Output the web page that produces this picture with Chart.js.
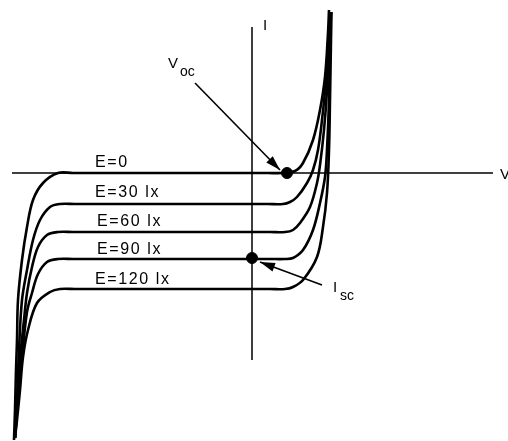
<!DOCTYPE html>
<html lang="en">
<head>
  <meta charset="UTF-8">
  <title>Photodiode I-V curves</title>
  <style>
    body {
      margin: 0;
      background: #fff;
    }
    #grafico {
      display: block;
    }
  </style>
</head>
<body>
  <canvas id="grafico" width="508" height="441"></canvas>

  <script src="https://cdn.jsdelivr.net/npm/chart.js"></script>
  <script>
  // Curvas I-V (unidades arbitrarias: V para a direita, I para cima)
  const e0V   = [-23.8, -23.7, -23.6, -23.5, -23.4, -23.0, -22.5, -21.9, -20.9, -19.4, -17.9, 1.6, 3.1, 4.3, 5.1, 6.1, 6.8, 7.3, 7.6, 7.7];
  const e0I   = [-26.7, -23.7, -19.7, -16.7, -12.7, -8.7, -5.4, -2.7, -1.0, 0, 0, 0, 0, 0.2, 1.0, 3.3, 6.3, 9.6, 14.0, 16.3];

  const e30V  = [-23.7, -23.5, -23.3, -23.0, -22.5, -21.9, -21.2, -20.2, -19.2, -17.7, 1.6, 3.1, 3.8, 4.5, 5.5, 6.1, 6.6, 7.0, 7.4, 7.7, 7.8];
  const e30I  = [-26.5, -22.7, -17.7, -12.7, -9.7, -6.7, -4.7, -3.4, -3.1, -3.1, -3.1, -3.1, -2.9, -2.4, -1.0, 0.3, 2.3, 5.3, 9.3, 14.3, 16.1];

  const e60V  = [-23.7, -23.5, -23.2, -22.8, -22.5, -22.0, -21.4, -20.5, -19.4, -17.9, 1.8, 3.3, 4.1, 4.8, 5.8, 6.5, 6.8, 7.2, 7.5, 7.7, 7.8];
  const e60I  = [-26.5, -23.7, -18.7, -14.7, -12.0, -9.4, -7.4, -6.2, -5.9, -5.9, -5.9, -5.9, -5.7, -5.0, -3.4, -1.0, 0.8, 4.3, 8.3, 13.3, 16.1];

  const e90V  = [-23.7, -23.4, -23.0, -22.5, -22.0, -21.4, -20.5, -19.4, -17.9, 1.8, 3.3, 4.1, 5.1, 6.1, 6.8, 7.3, 7.5, 7.7, 7.8, 7.9];
  const e90I  = [-26.5, -22.7, -18.4, -13.9, -12.0, -10.1, -8.9, -8.6, -8.6, -8.6, -8.6, -8.5, -7.7, -5.7, -3.0, -0.4, 2.3, 7.3, 13.3, 16.1];

  const e120V = [-23.7, -23.5, -23.2, -22.9, -22.4, -21.5, -20.2, -19.2, -17.7, 1.8, 3.3, 4.1, 5.1, 6.5, 7.1, 7.5, 7.7, 7.8, 7.9, 7.95];
  const e120I = [-26.5, -24.7, -21.7, -18.4, -15.7, -13.0, -11.9, -11.6, -11.6, -11.6, -11.6, -11.4, -10.7, -8.4, -5.4, -2.0, 2.3, 7.3, 13.3, 16.1];

  const curveLabels = ["E=0", "E=30 lx", "E=60 lx", "E=90 lx", "E=120 lx"];
  const labelV = [-15.7, -15.7, -15.5, -15.5, -15.7];
  const labelI = [1.0, -2.0, -4.9, -7.7, -10.7];

  // Eixos
  const axisVx = [-24.0, 24.1];
  const axisVy = [0, 0];
  const axisIx = [0, 0];
  const axisIy = [14.6, -18.7];

  // Pontos Voc e Isc
  const dotV = [3.5, 0];
  const dotI = [0, -8.5];

  // Setas (inicio -> ponta)
  const arrowVocV = [-5.7, 2.8];
  const arrowVocI = [9.0, 0.3];
  const arrowIscV = [7.0, 0.8];
  const arrowIscI = [-11.2, -8.9];

  function pts(xs, ys) {
    return xs.map((x, i) => ({ x: x, y: ys[i] }));
  }

  const curvas = [[e0V, e0I], [e30V, e30I], [e60V, e60I], [e90V, e90I], [e120V, e120I]];

  const datasets = [];
  curvas.forEach((c, i) => {
    datasets.push({
      label: curveLabels[i],
      data: pts(c[0], c[1]),
      showLine: true,
      borderColor: "#000",
      borderWidth: 2.6,
      pointRadius: 0,
      tension: 0.35
    });
  });
  datasets.push({ data: pts(axisVx, axisVy), showLine: true, borderColor: "#000", borderWidth: 1.5, pointRadius: 0 });
  datasets.push({ data: pts(axisIx, axisIy), showLine: true, borderColor: "#000", borderWidth: 1.5, pointRadius: 0 });
  datasets.push({ data: pts(arrowVocV, arrowVocI), showLine: true, borderColor: "#000", borderWidth: 1.6, pointRadius: 0 });
  datasets.push({ data: pts(arrowIscV, arrowIscI), showLine: true, borderColor: "#000", borderWidth: 1.6, pointRadius: 0 });
  datasets.push({ data: pts(dotV, dotI), showLine: false, pointRadius: 5.5, pointBackgroundColor: "#000", pointBorderColor: "#000" });

  // Plugin para textos e pontas das setas
  const extras = {
    id: "extras",
    afterDatasetsDraw(chart) {
      const c = chart.ctx;
      const sx = chart.scales.x, sy = chart.scales.y;
      const px = v => sx.getPixelForValue(v);
      const py = v => sy.getPixelForValue(v);

      function seta(xs, ys, len, half) {
        const x0 = px(xs[0]), y0 = py(ys[0]), x1 = px(xs[1]), y1 = py(ys[1]);
        const a = Math.atan2(y1 - y0, x1 - x0);
        c.save();
        c.fillStyle = "#000";
        c.beginPath();
        c.moveTo(x1, y1);
        c.lineTo(x1 - len * Math.cos(a) + half * Math.sin(a), y1 - len * Math.sin(a) - half * Math.cos(a));
        c.lineTo(x1 - len * Math.cos(a) - half * Math.sin(a), y1 - len * Math.sin(a) + half * Math.cos(a));
        c.closePath();
        c.fill();
        c.restore();
      }
      seta(arrowVocV, arrowVocI, 15, 4.5);
      seta(arrowIscV, arrowIscI, 15, 4.5);

      c.save();
      c.fillStyle = "#000";
      c.textBaseline = "middle";
      c.textAlign = "left";
      c.font = "16px 'Liberation Sans', Arial, sans-serif";
      c.letterSpacing = "1.6px";
      curveLabels.forEach((t, i) => c.fillText(t, px(labelV[i]), py(labelI[i])));
      c.letterSpacing = "0px";

      // Voc
      c.font = "15px 'Liberation Sans', Arial, sans-serif";
      c.fillText("V", px(-8.4), py(10.9));
      c.font = "14px 'Liberation Sans', Arial, sans-serif";
      c.fillText("oc", px(-7.2), py(10.1));
      // Isc
      c.font = "15px 'Liberation Sans', Arial, sans-serif";
      c.fillText("I", px(8.1), py(-11.5));
      c.font = "14px 'Liberation Sans', Arial, sans-serif";
      c.fillText("sc", px(8.8), py(-12.3));
      // rotulos dos eixos
      c.font = "15px 'Liberation Sans', Arial, sans-serif";
      c.fillText("I", px(1.1), py(14.7));
      c.fillText("V", px(24.8), py(-0.2));
      c.restore();
    }
  };

  const grafico = new Chart(document.getElementById("grafico").getContext("2d"), {
    type: "scatter",
    data: { datasets: datasets },
    options: {
      responsive: false,
      animation: false,
      devicePixelRatio: 1,
      layout: { padding: 0, autoPadding: false },
      plugins: {
        legend: { display: false },
        tooltip: { enabled: false }
      },
      scales: {
        x: { type: "linear", display: false, min: -25.2, max: 25.6 },
        y: { type: "linear", display: false, min: -26.8, max: 17.3 }
      }
    },
    plugins: [extras]
  });
  </script>
</body>
</html>
